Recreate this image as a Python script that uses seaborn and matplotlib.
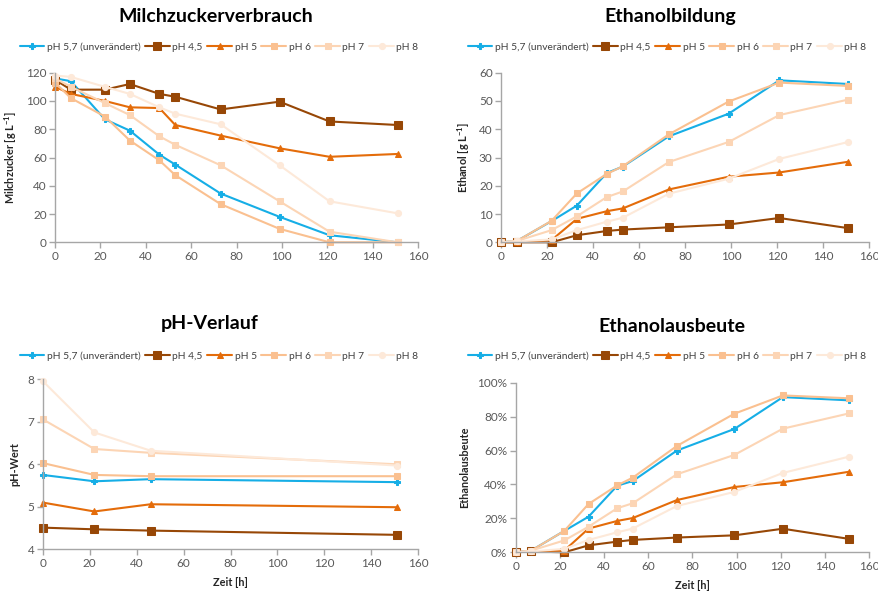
import numpy as np
import pandas as pd
import matplotlib
matplotlib.use("Agg")
import matplotlib.pyplot as plt
from matplotlib.ticker import FuncFormatter
import seaborn as sns

sns.set_theme(style="white")
plt.rcParams["font.family"] = ["Lato", "DejaVu Sans"]

# Sampling times [h]
zeit = [0, 7, 22, 33, 46, 53, 73, 99, 121, 151]
zeit_ph = [0, 22, 46, 151]

serien = ["pH 5,7 (unverändert)", "pH 4,5", "pH 5", "pH 6", "pH 7", "pH 8"]
farben = ["#16aee6", "#974706", "#e46c0a", "#fac090", "#fcd5b5", "#fde9d9"]
marker = ["P", "s", "^", "s", "s", "o"]
msize = [3.8, 6.2, 4.2, 4.4, 4.4, 4.4]

# Lactose [g/L]
milchzucker = {
    "pH 5,7 (unverändert)": [116, 114, 87, 79, 62, 55, 34.5, 18, 5, 0],
    "pH 4,5": [115, 108, 108, 112, 105, 103, 94, 99.5, 85.5, 83],
    "pH 5": [110, 105, 100, 95.5, 95, 83, 75.5, 66.5, 60.5, 62.5],
    "pH 6": [113, 102, 89, 72, 58, 47.5, 27, 9.5, 0, 0],
    "pH 7": [116, 110, 98.5, 90, 75, 69, 54.5, 29, 7.5, 0],
    "pH 8": [118, 117, 110, 105, 95.5, 91, 83.5, 54.5, 29, 20.5],
}

# Ethanol [g/L]
ethanol = {
    "pH 5,7 (unverändert)": [0, 0.5, 7.5, 13, 24.5, 26.8, 37.5, 45.5, 57.3, 56],
    "pH 4,5": [0, 0, 0, 2.5, 4, 4.5, 5.3, 6.3, 8.6, 5],
    "pH 5": [0, 0, 0.8, 8.3, 11, 12, 18.7, 23.2, 24.7, 28.5],
    "pH 6": [0, 0.5, 7.6, 17.3, 24.2, 26.9, 38.2, 49.8, 56.5, 55.3],
    "pH 7": [0, 0.5, 4.3, 9.2, 16, 18, 28.4, 35.5, 45, 50.5],
    "pH 8": [0, 0.3, 1, 4.3, 7.3, 8.7, 17.2, 22.5, 29.5, 35.5],
}

# pH over time
ph_wert = {
    "pH 5,7 (unverändert)": [5.75, 5.60, 5.65, 5.58],
    "pH 4,5": [4.51, 4.47, 4.44, 4.34],
    "pH 5": [5.10, 4.89, 5.06, 4.99],
    "pH 6": [6.03, 5.75, 5.72, 5.72],
    "pH 7": [7.06, 6.36, 6.27, 6.00],
    "pH 8": [7.96, 6.75, 6.32, 5.97],
}

# Ethanol yield [fraction]
ausbeute = {
    "pH 5,7 (unverändert)": [0, 0.01, 0.126, 0.21, 0.393, 0.42, 0.60, 0.727, 0.915, 0.896],
    "pH 4,5": [0, 0.005, 0, 0.041, 0.063, 0.073, 0.087, 0.10, 0.139, 0.079],
    "pH 5": [0, 0.005, 0.01, 0.14, 0.185, 0.202, 0.308, 0.385, 0.413, 0.475],
    "pH 6": [0, 0.01, 0.126, 0.285, 0.395, 0.44, 0.627, 0.817, 0.925, 0.908],
    "pH 7": [0, 0.01, 0.07, 0.151, 0.26, 0.289, 0.46, 0.574, 0.729, 0.819],
    "pH 8": [0, 0.005, 0.02, 0.073, 0.118, 0.14, 0.273, 0.356, 0.468, 0.564],
}

W, H = 879, 595
fig = plt.figure(figsize=(W / 100, H / 100), dpi=100)


def add_axes(x0, x1, ytop, ybot):
    return fig.add_axes([x0 / W, 1 - ybot / H, (x1 - x0) / W, (ybot - ytop) / H])


panels = [
    dict(rect=(55, 418, 72.7, 242.3), title="Milchzuckerverbrauch", data=milchzucker, t=zeit,
         ylim=(0, 120), yticks=np.arange(0, 121, 20), ylabel="Milchzucker [g L$^{\\mathregular{-1}}$]",
         xlabel=None, title_x=216, legend_cx=219, legend_y=47, pct=False),
    dict(rect=(501, 869, 72.7, 242.3), title="Ethanolbildung", data=ethanol, t=zeit,
         ylim=(0, 60), yticks=np.arange(0, 61, 10), ylabel="Ethanol [g L$^{\\mathregular{-1}}$]",
         xlabel=None, title_x=670, legend_cx=667, legend_y=47, pct=False),
    dict(rect=(42.7, 418.3, 379.3, 549.3), title="pH-Verlauf", data=ph_wert, t=zeit_ph,
         ylim=(4, 8), yticks=np.arange(4, 9, 1), ylabel="pH-Wert",
         xlabel="Zeit [h]", title_x=210, legend_cx=219, legend_y=356, pct=False),
    dict(rect=(515.7, 869, 382.7, 552.3), title="Ethanolausbeute", data=ausbeute, t=zeit,
         ylim=(0, 1), yticks=np.arange(0, 1.01, 0.2), ylabel="Ethanolausbeute",
         xlabel="Zeit [h]", title_x=672, legend_cx=667, legend_y=356, pct=True),
]

tick_col = "#595959"
spine_col = "#a6a6a6"

for p in panels:
    ax = add_axes(*p["rect"])
    for name, col, mk, ms in zip(serien, farben, marker, msize):
        sns.lineplot(x=p["t"], y=p["data"][name], ax=ax, color=col, marker=mk,
                     markersize=ms, markeredgecolor=col, markerfacecolor=col,
                     linewidth=1.5, label=name, clip_on=False, sort=False)
    ax.set_xlim(0, 160)
    ax.set_ylim(*p["ylim"])
    ax.set_xticks(np.arange(0, 161, 20))
    ax.set_yticks(p["yticks"])
    if p["pct"]:
        ax.yaxis.set_major_formatter(FuncFormatter(lambda v, _: f"{v * 100:.0f}%"))
    for s in ["top", "right"]:
        ax.spines[s].set_visible(False)
    for s in ["left", "bottom"]:
        ax.spines[s].set_color(spine_col)
        ax.spines[s].set_linewidth(1.0)
    ax.tick_params(axis="both", which="major", labelsize=8.5, labelcolor=tick_col,
                   color=spine_col, length=4, width=1, direction="out",
                   left=True, bottom=True, pad=2)
    ax.set_ylabel(p["ylabel"], fontsize=7.8, fontweight="bold", color="#262626", labelpad=5)
    if p["xlabel"]:
        ax.set_xlabel(p["xlabel"], fontsize=7.8, fontweight="bold", color="#262626", labelpad=6)
    else:
        ax.set_xlabel("")
    handles, labels = ax.get_legend_handles_labels()
    if ax.legend_:
        ax.legend_.remove()
    fig.legend(handles, labels, ncol=6, frameon=False, fontsize=7.4,
               loc="center", bbox_to_anchor=(p["legend_cx"] / W, 1 - p["legend_y"] / H),
               handlelength=2.4, handletextpad=0.25, columnspacing=0.45, borderaxespad=0,
               borderpad=0, labelcolor="#404040")
    fig.text(p["title_x"] / W, 1 - (p["rect"][2] - 56) / H, p["title"],
             ha="center", va="center", fontsize=14, fontweight="bold", color="#000000")

fig.savefig("out.png", dpi=100)
